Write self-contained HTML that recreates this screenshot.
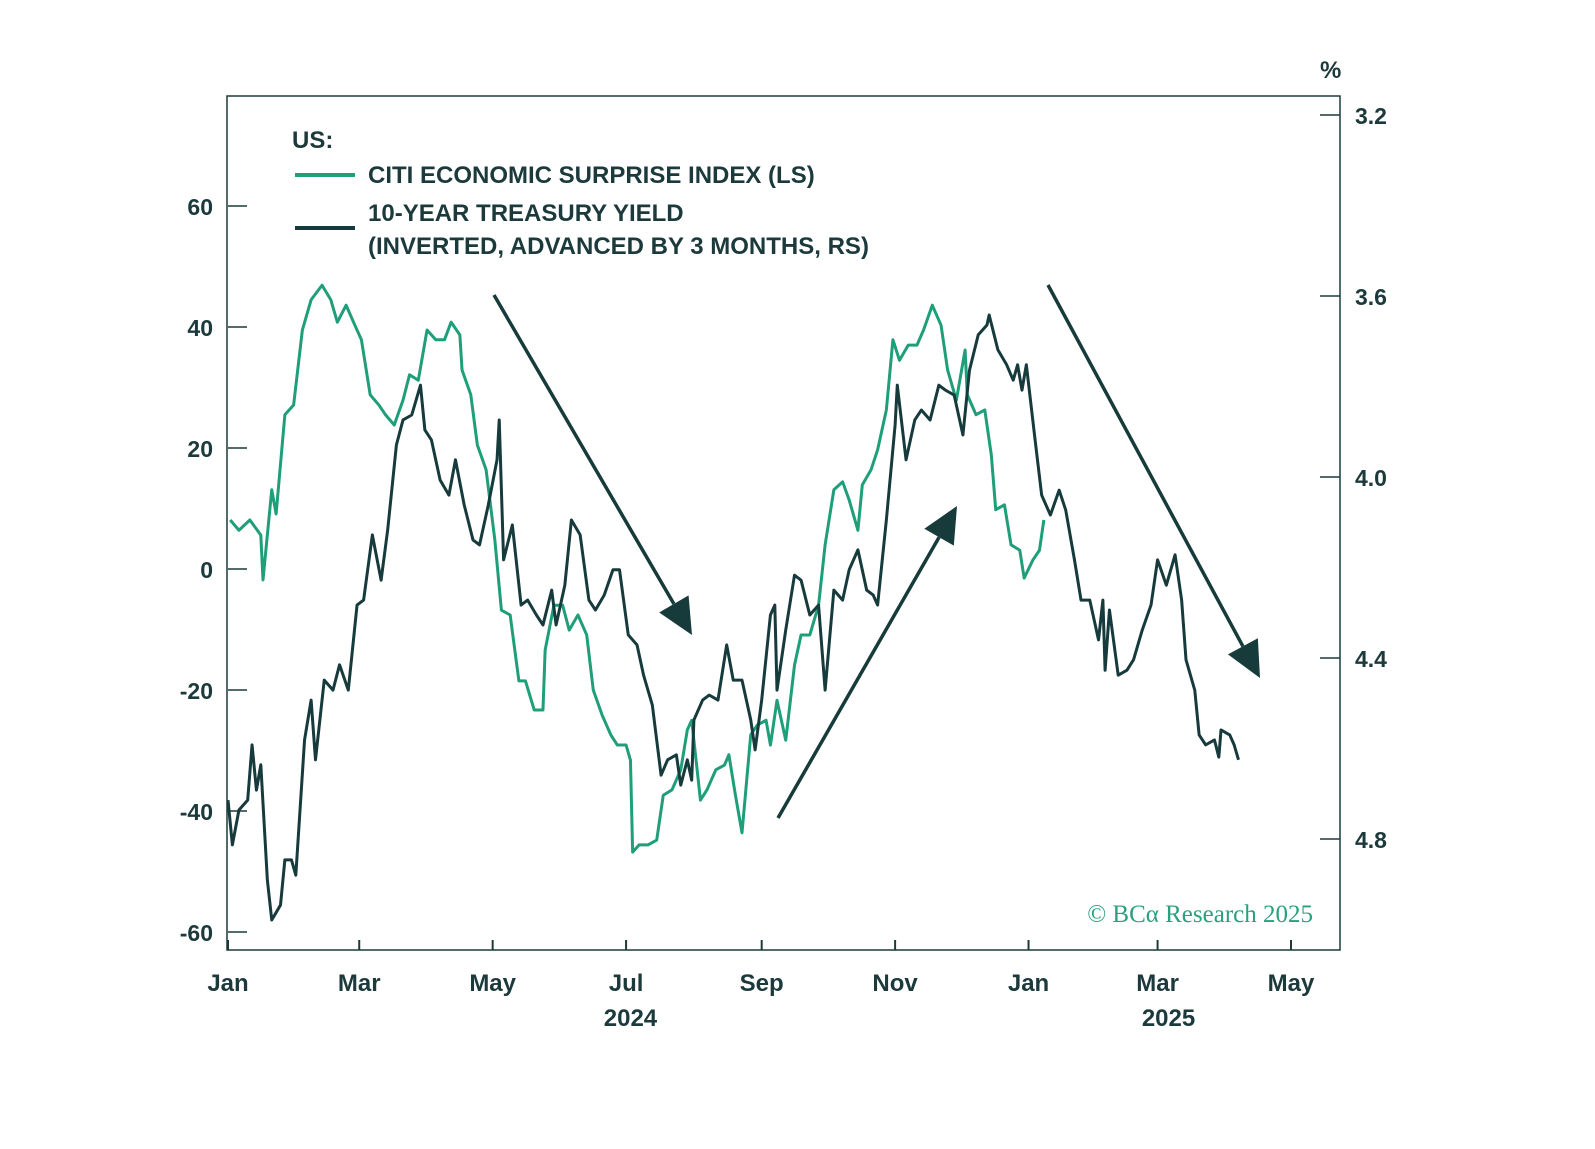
<!DOCTYPE html>
<html><head><meta charset="utf-8">
<style>
body{margin:0;background:#fff;}
svg text{font-family:"Liberation Sans",sans-serif;fill:#1c3a3c;font-weight:bold;}
</style></head>
<body>
<svg id="chart" width="1595" height="1144" viewBox="0 0 1595 1144" xmlns="http://www.w3.org/2000/svg">
<rect x="227" y="96" width="1113" height="854" fill="none" stroke="#1c3a3c" stroke-width="1.5"/>
<g id="axes"></g>
<g id="series"></g>
<g id="arrows" fill="#173b3b" stroke="#173b3b"></g>
<text x="292" y="148" font-size="24">US:</text>
<line x1="295" y1="175" x2="355" y2="175" stroke="#1f9e7a" stroke-width="4"/>
<text x="368" y="183" font-size="24">CITI ECONOMIC SURPRISE INDEX (LS)</text>
<line x1="295" y1="228" x2="355" y2="228" stroke="#173a3c" stroke-width="4"/>
<text x="368" y="221" font-size="24">10-YEAR TREASURY YIELD</text>
<text x="368" y="254" font-size="24">(INVERTED, ADVANCED BY 3 MONTHS, RS)</text>
<text x="1320" y="78" font-size="24">%</text>
<text x="1313" y="922" text-anchor="end" font-size="25" style="font-family:'Liberation Serif',serif;fill:#2aa07e;font-weight:normal">© BCα Research 2025</text>
</svg>
<script>
const greenDays=[1,5,10,15,16,20,22,26,30,34,38,43,47,50,54,58,61,65,69,72,76,80,83,87,91,95,99,102,106,107,111,114,118,122,125,129,133,136,140,144,145,149,153,156,160,164,167,171,175,178,182,184,185,188,192,196,199,203,207,210,212,216,219,223,227,229,232,235,239,242,246,248,251,255,259,262,266,270,273,277,281,284,288,290,294,297,301,304,307,311,315,318,322,326,329,333,337,338,342,346,349,351,355,358,362,364,368,371,373];
const greenValues=[8.1,6.4,8.1,5.6,-1.8,13.1,9.1,25.5,27.1,39.5,44.5,46.9,44.5,40.8,43.6,40.3,37.9,28.8,27.1,25.5,23.8,27.9,32.1,31.2,39.5,37.9,37.9,40.8,38.7,32.9,28.8,20.5,16.4,4.8,-6.8,-7.6,-18.5,-18.5,-23.3,-23.3,-13.4,-6.0,-6.0,-10.1,-7.6,-10.9,-20.0,-24.1,-27.4,-29.1,-29.1,-31.6,-46.8,-45.6,-45.6,-44.8,-37.4,-36.5,-33.2,-26.6,-25.0,-38.2,-36.5,-33.2,-32.4,-30.7,-37.4,-43.6,-27.4,-25.8,-25.0,-29.1,-21.7,-28.3,-15.9,-10.9,-10.9,-6.0,4.0,13.1,14.4,11.4,6.4,13.9,16.4,19.7,26.3,37.9,34.5,37.0,37.0,39.5,43.6,40.3,32.9,27.9,36.2,28.8,25.5,26.3,18.8,9.8,10.6,4.0,3.1,-1.5,1.5,3.1,8.1];
const yieldDays=[0,2,5,9,11,13,15,18,20,24,26,29,31,35,38,40,44,48,51,55,59,62,66,70,73,77,80,84,88,90,93,97,101,104,108,112,115,119,123,124,126,130,134,137,141,144,148,150,154,157,161,165,168,172,176,179,183,187,190,194,198,201,205,207,210,212,213,217,220,224,228,231,235,239,241,244,248,250,251,255,259,262,266,270,273,277,281,284,288,292,295,297,301,305,306,310,314,317,321,325,328,332,336,339,343,347,348,352,356,359,361,363,365,369,372,376,380,383,387,390,394,398,400,401,403,407,411,414,418,422,425,429,433,436,438,442,444,447,451,453,454,458,460,462];
const yieldValues=[4.714,4.813,4.736,4.714,4.592,4.692,4.636,4.891,4.979,4.946,4.846,4.846,4.880,4.581,4.493,4.625,4.449,4.471,4.415,4.471,4.283,4.272,4.128,4.228,4.117,3.929,3.874,3.863,3.797,3.896,3.918,4.007,4.040,3.962,4.062,4.139,4.150,4.062,3.962,3.874,4.183,4.106,4.283,4.272,4.305,4.327,4.250,4.327,4.239,4.095,4.128,4.272,4.294,4.261,4.205,4.205,4.349,4.371,4.438,4.504,4.659,4.625,4.614,4.681,4.625,4.670,4.537,4.493,4.482,4.493,4.371,4.449,4.449,4.537,4.603,4.493,4.305,4.283,4.471,4.338,4.217,4.228,4.305,4.283,4.471,4.250,4.272,4.205,4.161,4.250,4.261,4.283,4.095,3.885,3.797,3.962,3.874,3.852,3.874,3.797,3.808,3.819,3.907,3.764,3.686,3.664,3.642,3.719,3.752,3.786,3.752,3.808,3.752,3.918,4.040,4.084,4.029,4.073,4.183,4.272,4.272,4.360,4.272,4.427,4.294,4.438,4.427,4.404,4.338,4.283,4.183,4.239,4.172,4.272,4.404,4.471,4.570,4.592,4.581,4.619,4.559,4.570,4.592,4.625];
const leftTicks=[60,40,20,0,-20,-40,-60];
const rightTicks=[3.2,3.6,4.0,4.4,4.8];
const monthLabels=["Jan","Mar","May","Jul","Sep","Nov","Jan","Mar","May"];
const monthDays=[0,60,121,182,244,305,366,425,486];
const yearLabels=["2024","2025"];
const yearDays=[184,430];

const xS=d=>228+d*(1291-228)/486;
const yL=v=>569-v*6.05;
const yR=v=>115+(v-3.2)*452.5;
const NS="http://www.w3.org/2000/svg";
function mk(tag,attrs,parent,text){const e=document.createElementNS(NS,tag);for(const k in attrs)e.setAttribute(k,attrs[k]);if(text!==undefined)e.textContent=text;parent.appendChild(e);return e;}
const axes=document.getElementById('axes'),series=document.getElementById('series'),arrows=document.getElementById('arrows');
leftTicks.forEach(v=>{
  const l=mk('line',{x1:228,x2:247,y1:yL(v),y2:yL(v),stroke:'#1c3a3c','stroke-width':1.5},axes);
  
  
  const t=mk('text',{x:213,y:yL(v)+9,'text-anchor':'end','font-size':23},axes,String(v));
  
  
});
rightTicks.forEach(v=>{
  const l=mk('line',{x1:1320,x2:1340,y1:yR(v),y2:yR(v),stroke:'#1c3a3c','stroke-width':1.5},axes);
  
  
  const t=mk('text',{x:1355,y:yR(v)+9,'font-size':23},axes,v.toFixed(1));
  
  
});
monthDays.forEach((d,i)=>{
  const l=mk('line',{x1:xS(d),x2:xS(d),y1:940,y2:950,stroke:'#1c3a3c','stroke-width':2},axes);
  
  
  const t=mk('text',{x:xS(d),y:991,'text-anchor':'middle','font-size':24},axes,monthLabels[i]);
  
  
});
yearDays.forEach((d,i)=>{
  const t=mk('text',{x:xS(d),y:1026,'text-anchor':'middle','font-size':24},axes,yearLabels[i]);
  
  
});
const gp=mk('polyline',{points:greenDays.map((d,i)=>xS(d)+','+yL(greenValues[i])).join(' '),fill:'none',stroke:'#1f9e7a','stroke-width':3,'stroke-linejoin':'round'},series);


const bp=mk('polyline',{points:yieldDays.map((d,i)=>xS(d)+','+yR(yieldValues[i])).join(' '),fill:'none',stroke:'#173a3c','stroke-width':3,'stroke-linejoin':'round'},series);


function arrow(x1,y1,x2,y2){
  const dx=x2-x1,dy=y2-y1,L=Math.hypot(dx,dy),ux=dx/L,uy=dy/L,h=36,w=17;
  const bx=x2-ux*h,by=y2-uy*h;
  const ln=mk('line',{x1,y1,x2:bx,y2:by,'stroke-width':3.5},arrows);
  
  
  const p=mk('polygon',{points:`${x2},${y2} ${bx-uy*w},${by+ux*w} ${bx+uy*w},${by-ux*w}`,stroke:'none'},arrows);
  
  
}
arrow(494,295,692,635);
arrow(778,818,957,506);
arrow(1048,285,1260,678);
</script>
</body></html>
